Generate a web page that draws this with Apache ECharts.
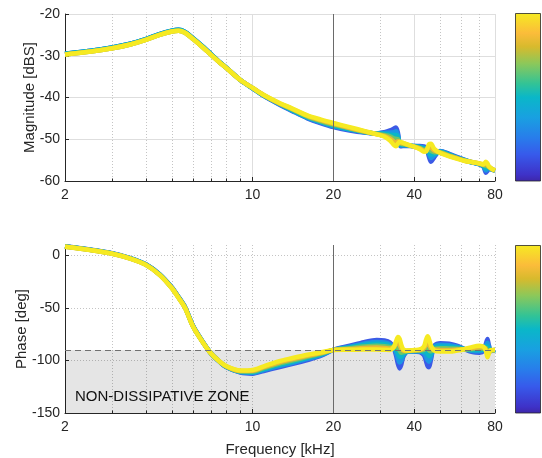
<!DOCTYPE html>
<html><head><meta charset="utf-8">
<script src="https://cdn.jsdelivr.net/npm/echarts@6.0.0/dist/echarts.min.js"></script>
<style>html,body{margin:0;padding:0;background:#fff}#c{width:542px;height:458px}</style>
</head><body><div id="c"></div>
<script>
// ---------- data ----------
const freqKHz = [2,2.5,3,3.5,4,4.5,5,5.3,5.6,6, 6.5,7,7.5,8,9,10,11,12.5,14,16, 18,20,23,26,29,31,32.5,33.5,34.2,34.8, 35.3,35.8,36.5,38,40,42,43.5,44.3,44.9,45.4, 46.2,47.5,50,54,58,62,66,70,72.5,74, 75,76,77.5,80];
const xMajorTicks = [2,10,20,40,80];
const xMinorTicks = [3,4,5,6,7,8,9,30,50,60,70];
const magTicks = [-60,-50,-40,-30,-20];
const phaseTicks = [-150,-100,-50,0];
const zoneLimit = -90;
const splitFreq = 20;
const zoneLabel = 'NON-DISSIPATIVE ZONE';

const mag0 = [-29.5,-28.8,-28.0,-27.1,-26.0,-24.8,-24.0,-23.8,-24.3,-25.8, -27.7,-29.6,-31.4,-32.9,-35.8,-37.8,-39.6,-41.6,-43.2,-45.0, -46.2,-47.1,-47.9,-48.4,-48.6,-48.3,-47.9,-47.5,-47.2,-48.5, -51.3,-51.7,-51.6,-51.6,-51.6,-51.6,-51.7,-52.0,-53.0,-54.2, -55.4,-54.3,-52.8,-53.5,-54.3,-55.0,-55.6,-56.0,-56.6,-58.0, -57.6,-57.0,-57.2,-57.5];
const mag1 = [-29.5,-28.8,-28.0,-27.1,-26.0,-24.8,-24.0,-23.8,-24.3,-25.8, -27.7,-29.6,-31.4,-32.9,-35.8,-37.8,-39.6,-41.5,-43.1,-44.9, -46.0,-46.9,-47.7,-48.3,-48.6,-48.5,-48.4,-48.3,-48.1,-49.0, -51.2,-51.5,-51.5,-51.5,-51.6,-51.8,-52.0,-52.2,-52.8,-53.6, -54.5,-53.9,-52.9,-53.6,-54.4,-55.0,-55.6,-56.0,-56.5,-57.5, -57.2,-56.9,-57.2,-57.5];
const mag2 = [-29.5,-28.8,-28.0,-27.1,-26.0,-24.8,-24.0,-23.8,-24.3,-25.8, -27.7,-29.6,-31.4,-32.9,-35.8,-37.8,-39.5,-41.4,-43.0,-44.7, -45.8,-46.7,-47.6,-48.2,-48.7,-48.7,-48.9,-49.0,-49.0,-49.5, -51.0,-51.3,-51.3,-51.5,-51.7,-51.9,-52.2,-52.4,-52.6,-53.0, -53.7,-53.5,-53.0,-53.7,-54.5,-55.1,-55.6,-55.9,-56.4,-57.0, -56.9,-56.8,-57.1,-57.5];
const mag3 = [-29.7,-29.0,-28.2,-27.3,-26.2,-25.0,-24.2,-24.0,-24.5,-26.0, -27.9,-29.8,-31.5,-33.0,-35.8,-37.7,-39.5,-41.4,-42.8,-44.6, -45.7,-46.5,-47.4,-48.2,-48.7,-49.0,-49.3,-49.8,-49.9,-50.0, -50.9,-51.1,-51.2,-51.4,-51.7,-52.1,-52.5,-52.5,-52.4,-52.4, -52.8,-53.1,-53.1,-53.9,-54.5,-55.1,-55.5,-55.9,-56.2,-56.4, -56.5,-56.7,-57.1,-57.5];
const mag4 = [-29.7,-29.0,-28.2,-27.3,-26.2,-25.0,-24.2,-24.0,-24.5,-26.0, -27.9,-29.8,-31.5,-33.0,-35.8,-37.7,-39.4,-41.3,-42.7,-44.4, -45.5,-46.3,-47.3,-48.1,-48.8,-49.2,-49.8,-50.5,-50.8,-50.5, -50.7,-50.9,-51.0,-51.4,-51.8,-52.2,-52.7,-52.7,-52.2,-51.8, -52.0,-52.7,-53.2,-54.0,-54.6,-55.2,-55.5,-55.8,-56.1,-55.9, -56.2,-56.6,-57.0,-57.5];
const mag5 = [-29.7,-29.0,-28.2,-27.3,-26.2,-25.0,-24.2,-24.0,-24.5,-26.0, -27.9,-29.8,-31.5,-33.0,-35.8,-37.7,-39.4,-41.2,-42.6,-44.3, -45.3,-46.1,-47.1,-48.0,-48.8,-49.4,-50.3,-51.3,-51.7,-51.0, -50.6,-50.7,-50.9,-51.3,-51.8,-52.4,-53.0,-52.9,-52.0,-51.2, -51.1,-52.3,-53.3,-54.1,-54.7,-55.2,-55.5,-55.8,-56.0,-55.4, -55.8,-56.5,-57.0,-57.5];

const phase0 = [8.8,5.5,2.1,-2.5,-8.3,-17.8,-30.3,-39.5,-49.0,-67.0, -81.6,-93.3,-100.8,-106.5,-111.5,-112.5,-110.0,-106.5,-103.5,-99.5, -95.5,-89.8,-86.0,-82.5,-80.5,-81.0,-83.0,-87.5,-95.0,-103.5, -107.5,-104.0,-96.0,-91.5,-91.5,-92.0,-95.0,-101.0,-105.5,-106.5, -99.0,-86.0,-83.5,-84.0,-86.0,-89.5,-92.0,-92.5,-91.0,-84.0, -79.5,-86.0,-91.0,-90.0];
const phase1 = [8.7,5.4,2.0,-2.6,-8.4,-17.9,-30.5,-39.7,-49.2,-67.2, -81.7,-93.3,-100.7,-106.3,-111.1,-111.8,-109.1,-105.4,-102.4,-98.5, -94.8,-89.8,-86.8,-83.9,-82.3,-82.8,-84.4,-87.5,-92.4,-98.3, -101.9,-100.2,-94.7,-91.3,-91.2,-91.5,-93.3,-96.8,-99.8,-101.1, -96.4,-86.9,-85.1,-85.5,-86.9,-89.4,-91.0,-91.2,-90.2,-85.4, -83.0,-87.4,-90.8,-90.0];
const phase2 = [8.6,5.3,1.9,-2.7,-8.5,-18.1,-30.7,-39.9,-49.4,-67.4, -81.8,-93.3,-100.7,-106.1,-110.7,-111.1,-108.2,-104.2,-101.2,-97.5, -94.2,-89.9,-87.5,-85.3,-84.1,-84.5,-85.8,-87.5,-89.8,-93.1, -96.3,-96.4,-93.4,-91.1,-90.9,-91.0,-91.6,-92.6,-94.1,-95.7, -93.8,-87.8,-86.7,-87.0,-87.8,-89.3,-90.0,-89.9,-89.4,-86.8, -86.5,-88.8,-90.6,-90.0];
const phase3 = [8.5,5.2,1.8,-2.8,-8.7,-18.2,-30.8,-40.1,-49.6,-67.5, -82.0,-93.4,-100.6,-105.9,-110.3,-110.4,-107.3,-103.1,-100.1,-96.5, -93.5,-89.9,-88.3,-86.7,-85.9,-86.3,-87.2,-87.5,-87.2,-87.9, -90.7,-92.6,-92.1,-90.9,-90.6,-90.5,-89.9,-88.4,-88.4,-90.3, -91.2,-88.7,-88.3,-88.5,-88.7,-89.2,-89.0,-88.6,-88.6,-88.2, -90.0,-90.2,-90.4,-90.0];
const phase4 = [8.4,5.1,1.7,-2.9,-8.8,-18.4,-31.0,-40.3,-49.8,-67.7, -82.1,-93.4,-100.6,-105.7,-109.9,-109.7,-106.4,-101.9,-98.9,-95.5, -92.9,-90.0,-89.0,-88.1,-87.7,-88.0,-88.6,-87.5,-84.6,-82.7, -85.1,-88.8,-90.8,-90.7,-90.3,-90.0,-88.2,-84.2,-82.7,-84.9, -88.6,-89.6,-89.9,-90.0,-89.6,-89.1,-88.0,-87.3,-87.8,-89.6, -93.5,-91.6,-90.2,-90.0];
const phase5 = [8.3,5.0,1.6,-3.0,-8.9,-18.5,-31.2,-40.5,-50.0,-67.9, -82.2,-93.4,-100.5,-105.5,-109.5,-109.0,-105.5,-100.8,-97.8,-94.5, -92.2,-90.0,-89.8,-89.5,-89.5,-89.8,-90.0,-87.5,-82.0,-77.5, -79.5,-85.0,-89.5,-90.5,-90.0,-89.5,-86.5,-80.0,-77.0,-79.5, -86.0,-90.5,-91.5,-91.5,-90.5,-89.0,-87.0,-86.0,-87.0,-91.0, -97.0,-93.0,-90.0,-90.0];

const curveColors = ['#3C5AE6','#1C96E3','#0AB7C6','#6EC66A','#E8B936','#F6EA22'];
const colorbarStops = [[0,'#3E26A8'],[0.04,'#3E32C8'],[0.16,'#375AEB'],[0.26,'#287DEB'],[0.38,'#19A0E1'],[0.5,'#0AB7C8'],[0.58,'#32C396'],[0.7,'#8CC85A'],[0.8,'#D7BA2D'],[0.88,'#FBBC3A'],[1,'#F6EA22']];

// ---------- chart ----------
const magCurves = [mag0,mag1,mag2,mag3,mag4,mag5];
const phaseCurves = [phase0,phase1,phase2,phase3,phase4,phase5];
const FONT = '"Liberation Sans", Arial, Helvetica, sans-serif';
const AX = '#262626';
const GRID_H = [167, 168];
const pair = arr => freqKHz.map((f,i) => [f, arr[i]]);

function xMajor(gi, dotted, withName) {
  const a = {
    type:'log', logBase:10, gridIndex:gi, min:2, max:80, position:'bottom',
    axisLine:{show:true, onZero:false, lineStyle:{color:AX, width:1}},
    axisTick:{show:true, inside:true, length:4, customValues:xMajorTicks, lineStyle:{color:AX, width:1}},
    axisLabel:{show:true, customValues:xMajorTicks, color:AX, fontSize:14, fontFamily:FONT, margin:7, formatter:v=>String(Math.round(v))},
    splitLine:{show:true, lineStyle:{color: dotted ? '#c4c4c4' : '#dedede', width:1, type: dotted ? [1,2] : 'solid'}},
    minorTick:{show:false}, minorSplitLine:{show:false}
  };
  if (withName) {
    a.name = 'Frequency [kHz]'; a.nameLocation = 'middle'; a.nameGap = 29; a.nameMoveOverlap = false;
    a.nameTextStyle = {fontSize:15, color:AX, fontFamily:FONT, verticalAlign:'top'};
  }
  return a;
}
function xMinor(gi) {
  return {
    type:'log', logBase:10, gridIndex:gi, min:2, max:80, position:'top', offset:-GRID_H[gi],
    axisLine:{show:false},
    axisTick:{show:true, inside:false, length:2.5, customValues:xMinorTicks, lineStyle:{color:AX, width:1}},
    axisLabel:{show:false},
    splitLine:{show:true, lineStyle:{color:'#c4c4c4', width:1, type:[1,2]}},
    minorTick:{show:false}, minorSplitLine:{show:false}
  };
}

const series = [];
magCurves.forEach((arr,k) => series.push({
  type:'line', xAxisIndex:0, yAxisIndex:0, data:pair(arr), showSymbol:false, smooth:0.3,
  lineStyle:{width:4.5, color:curveColors[k]}, silent:true, clip:true
}));
phaseCurves.forEach((arr,k) => series.push({
  type:'line', xAxisIndex:2, yAxisIndex:1, data:pair(arr), showSymbol:false, smooth:0.3,
  lineStyle:{width:4.5, color:curveColors[k]}, silent:true, clip:true
}));
series[6].markArea = {
  silent:true, z:1,
  itemStyle:{color:'rgba(0,0,0,0.10)'},
  label:{show:true, position:'insideBottomLeft', distance:9, offset:[1,0], fontSize:15, color:'#111', fontFamily:FONT},
  data:[[{yAxis:-150, name:zoneLabel},{yAxis:zoneLimit}]]
};
series[5].markLine = {silent:true, symbol:'none', label:{show:false}, animation:false,
  lineStyle:{color:'#6a6a6a', width:1, type:'solid'}, data:[{xAxis:splitFreq}]};
series[11].markLine = {silent:true, symbol:'none', label:{show:false}, animation:false,
  lineStyle:{color:'#6a6a6a', width:1, type:'solid'},
  data:[{xAxis:splitFreq},{yAxis:zoneLimit, lineStyle:{type:[6,4], color:'#707070', width:1.2}}]};

const chart = echarts.init(document.getElementById('c'), null, {renderer:'canvas'});
chart.setOption({
  animation:false,
  backgroundColor:'#fff',
  textStyle:{fontFamily:FONT},
  grid:[
    {left:65, top:14, width:430, height:GRID_H[0], containLabel:false, outerBoundsMode:'none'},
    {left:65, top:245, width:430, height:GRID_H[1], containLabel:false, outerBoundsMode:'none'}
  ],
  xAxis:[xMajor(0,false,false), xMinor(0), xMajor(1,true,true), xMinor(1)],
  yAxis:[
    {type:'value', gridIndex:0, min:-60, max:-20, interval:10,
     name:'Magnitude [dBS]', nameLocation:'middle', nameGap:28, nameMoveOverlap:false,
     nameTextStyle:{fontSize:15, color:AX, fontFamily:FONT},
     axisLine:{show:true, lineStyle:{color:AX, width:1}},
     axisTick:{show:true, inside:true, length:4, customValues:magTicks, lineStyle:{color:AX}},
     axisLabel:{customValues:magTicks, color:AX, fontSize:14, fontFamily:FONT, margin:5},
     splitLine:{show:true, lineStyle:{color:'#dedede', width:1}}},
    {type:'value', gridIndex:1, min:-150, max:10,
     name:'Phase [deg]', nameLocation:'middle', nameGap:36, nameMoveOverlap:false,
     nameTextStyle:{fontSize:15, color:AX, fontFamily:FONT},
     axisLine:{show:true, lineStyle:{color:AX, width:1}},
     axisTick:{show:true, inside:true, length:4, customValues:phaseTicks, lineStyle:{color:AX}},
     axisLabel:{customValues:phaseTicks, color:AX, fontSize:14, fontFamily:FONT, margin:5},
     splitLine:{show:true, lineStyle:{color:'#c4c4c4', width:1, type:[1,2]}}}
  ],
  series: series,
  graphic:[
    {type:'rect', shape:{x:515.5, y:13.5, width:25, height:167.5}, z:10,
     style:{fill:new echarts.graphic.LinearGradient(0,1,0,0, colorbarStops.map(s=>({offset:s[0], color:s[1]}))), stroke:AX, lineWidth:0.8}},
    {type:'rect', shape:{x:515.5, y:245.5, width:25, height:167.5}, z:10,
     style:{fill:new echarts.graphic.LinearGradient(0,1,0,0, colorbarStops.map(s=>({offset:s[0], color:s[1]}))), stroke:AX, lineWidth:0.8}}
  ]
});
</script></body></html>
